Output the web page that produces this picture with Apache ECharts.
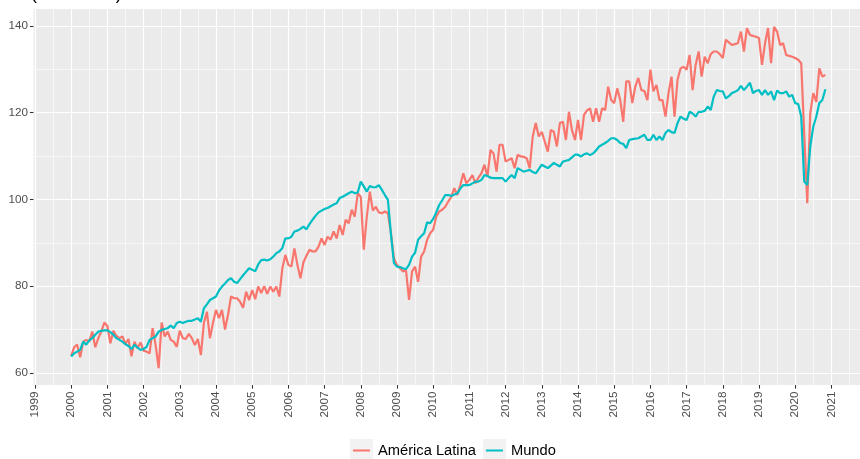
<!DOCTYPE html>
<html lang="es">
  <head>
    <meta charset="UTF-8" />
    <title>América Latina y Mundo</title>
    <script src="https://cdn.jsdelivr.net/npm/echarts@6/dist/echarts.min.js"></script>
  </head>
  <style>
    html,
    body {
      margin: 0;
      padding: 0;
      background: #fff;
    }
    #chart {
      width: 860px;
      height: 459px;
    }
  </style>
  <body>
    <div id="chart"></div>
  </body>
  <script>
    // serie mensual, enero 2000 - noviembre 2020
    const inicio = 2000;

    const americaLatina = [
      63.9, 65.9, 66.5, 63.6, 67.2, 67.6, 67.2, 69.5, 65.9, 68.0, 69.5, 71.6, // 2000
      70.8, 66.8, 69.7, 68.5, 68.0, 68.4, 66.7, 67.8, 63.8, 67.2, 65.7, 67.0, // 2001
      65.1, 64.9, 64.5, 70.3, 66.4, 61.1, 71.6, 68.4, 69.5, 67.6, 67.2, 66.0, // 2002
      69.7, 68.0, 67.8, 69.0, 68.0, 66.4, 67.8, 64.1, 71.5, 74.1, 68.0, 71.5, // 2003
      74.5, 72.6, 74.5, 70.0, 73.4, 77.6, 77.2, 77.2, 76.4, 75.0, 78.7, 76.8, // 2004
      79.1, 77.0, 79.9, 78.4, 80.0, 78.2, 79.9, 78.7, 79.9, 77.6, 84.1, 87.2, // 2005
      84.9, 84.5, 88.7, 84.9, 81.8, 85.5, 87.0, 88.4, 88.0, 88.0, 89.1, 91.0, // 2006
      89.5, 91.4, 90.7, 92.6, 91.0, 94.1, 91.8, 95.3, 94.5, 97.6, 96.0, 101.4, // 2007
      100.6, 88.4, 96.0, 101.8, 97.4, 98.3, 97.0, 96.8, 97.2, 96.8, 92.2, 86.4, // 2008
      84.9, 84.1, 83.4, 83.6, 76.8, 83.4, 84.5, 81.0, 86.8, 88.0, 90.7, 92.2, // 2009
      93.0, 96.0, 97.2, 97.6, 98.3, 99.5, 100.6, 102.6, 101.0, 103.3, 106.0, 103.7, // 2010
      104.5, 105.6, 103.7, 105.0, 106.0, 108.0, 105.3, 111.4, 110.6, 106.4, 112.6, 112.6, // 2011
      108.7, 109.1, 109.5, 107.2, 110.3, 109.9, 109.8, 109.5, 107.2, 114.5, 117.6, 114.5, // 2012
      115.6, 113.3, 111.0, 116.0, 115.6, 112.2, 117.6, 117.9, 113.7, 120.2, 116.0, 113.7, // 2013
      118.3, 113.7, 119.5, 120.5, 121.0, 117.9, 121.0, 117.9, 121.0, 120.6, 126.0, 122.9, // 2014
      122.2, 125.6, 122.9, 117.9, 127.2, 127.2, 122.2, 126.0, 128.0, 125.2, 125.0, 122.9, // 2015
      129.9, 124.9, 126.4, 122.9, 122.9, 119.1, 124.5, 128.3, 119.1, 127.6, 130.2, 130.6, // 2016
      129.9, 133.3, 125.2, 131.0, 134.1, 128.3, 132.9, 131.4, 133.5, 134.1, 134.1, 133.5, // 2017
      132.6, 136.8, 136.2, 135.6, 135.8, 136.0, 138.7, 134.1, 139.5, 137.9, 137.7, 137.5, // 2018
      137.2, 131.0, 136.0, 139.5, 131.4, 139.8, 138.7, 135.6, 136.0, 133.3, 133.1, 132.9, // 2019
      132.6, 132.2, 131.4, 115.0, 99.1, 119.9, 124.5, 122.5, 130.2, 128.3, 128.7 // 2020
    ];

    const mundo = [
      63.8, 64.5, 64.9, 65.3, 67.2, 66.5, 67.5, 68.0, 68.8, 69.5, 69.7, 69.8, // 2000
      69.8, 69.4, 68.8, 68.0, 67.6, 67.2, 66.6, 66.2, 65.5, 66.5, 65.8, 65.3, // 2001
      65.5, 66.0, 67.6, 68.0, 68.4, 69.5, 69.9, 70.1, 70.3, 70.9, 70.3, 71.5, // 2002
      71.8, 71.5, 71.8, 72.0, 72.0, 72.3, 72.6, 71.8, 74.9, 75.8, 76.8, 77.2, // 2003
      77.6, 79.0, 79.9, 80.6, 81.4, 81.8, 81.0, 80.7, 81.6, 82.5, 83.3, 84.1, // 2004
      83.8, 83.4, 85.0, 86.0, 86.1, 85.9, 86.2, 86.8, 87.6, 88.0, 88.8, 91.0, // 2005
      91.0, 91.4, 92.6, 92.8, 93.2, 93.7, 93.1, 94.3, 95.3, 96.2, 97.0, 97.4, // 2006
      97.8, 98.0, 98.4, 98.8, 99.1, 100.3, 100.6, 101.0, 101.4, 101.8, 101.4, 101.6, // 2007
      104.1, 103.0, 101.8, 103.1, 102.8, 102.8, 103.3, 102.2, 101.0, 99.9, 92.0, 85.3, // 2008
      84.5, 84.4, 84.1, 83.9, 84.9, 86.8, 87.7, 90.7, 91.5, 92.2, 94.7, 94.5, // 2009
      95.5, 97.0, 98.7, 99.8, 101.0, 101.0, 100.8, 101.1, 101.4, 102.5, 103.3, 103.3, // 2010
      103.3, 103.7, 104.1, 104.1, 104.5, 105.6, 105.4, 105.0, 104.9, 104.9, 104.9, 104.9, // 2011
      104.1, 104.9, 105.6, 104.9, 107.2, 106.8, 106.4, 106.6, 106.8, 106.3, 106.0, 107.0, // 2012
      108.0, 107.6, 107.2, 107.8, 108.4, 108.0, 107.6, 108.7, 108.9, 109.1, 109.7, 110.3, // 2013
      110.3, 109.9, 110.4, 110.6, 110.2, 110.6, 111.3, 112.2, 112.6, 113.0, 113.5, 114.1, // 2014
      114.1, 113.7, 113.0, 112.8, 111.8, 113.7, 113.9, 114.0, 114.1, 114.5, 114.9, 113.7, // 2015
      113.7, 114.9, 113.7, 114.5, 113.7, 115.3, 116.0, 115.5, 115.3, 117.6, 119.1, 118.6, // 2016
      118.3, 120.2, 119.8, 119.1, 120.2, 120.2, 120.4, 121.4, 120.6, 123.7, 125.2, 125.0, // 2017
      124.9, 123.3, 123.8, 124.5, 124.8, 125.2, 126.2, 125.2, 126.0, 126.9, 124.5, 125.0, // 2018
      125.2, 124.1, 125.2, 124.1, 124.9, 122.9, 125.1, 124.5, 124.5, 124.9, 123.7, 124.1, // 2019
      122.2, 122.0, 119.1, 104.1, 103.3, 112.2, 116.8, 119.1, 122.2, 122.9, 125.4 // 2020
    ];

    const anios = [1999, 2000, 2001, 2002, 2003, 2004, 2005, 2006, 2007, 2008, 2009, 2010,
      2011, 2012, 2013, 2014, 2015, 2016, 2017, 2018, 2019, 2020, 2021];
    const mediosAnios = [1999.5, 2000.5, 2001.5, 2002.5, 2003.5, 2004.5, 2005.5, 2006.5,
      2007.5, 2008.5, 2009.5, 2010.5, 2011.5, 2012.5, 2013.5, 2014.5, 2015.5, 2016.5,
      2017.5, 2018.5, 2019.5, 2020.5, 2021.5];
    const ticksY = [60, 80, 100, 120, 140];
    const menoresY = [70, 90, 110, 130];

    const fechas = americaLatina.map((_, i) => inicio + i / 12);
    const fuente = "Liberation Sans, Arial, sans-serif";
    const rojo = "#F8766D";
    const turquesa = "#00BFC4";

    const chart = echarts.init(document.getElementById("chart"), null, { renderer: "canvas" });

    const ejeX = {
      type: "value",
      min: 1998.96,
      max: 2021.79,
      axisLine: { show: false },
    };
    const ejeY = {
      type: "value",
      min: 57.2,
      max: 143.9,
      axisLine: { show: false },
    };

    var option = {
      animation: false,
      title: {
        text: "(2010=100)",
        left: 31,
        top: -15,
        padding: 0,
        textStyle: { fontSize: 17.6, fontWeight: "normal", color: "#000", fontFamily: fuente },
      },
      grid: {
        left: 33.5,
        top: 9,
        width: 832,
        height: 376,
        show: true,
        backgroundColor: "#EBEBEB",
        borderWidth: 0,
      },
      legend: [
        {
          // cajas grises de la leyenda
          data: ["América Latina", "Mundo"],
          left: 350,
          top: 439,
          padding: 0,
          icon: "rect",
          itemWidth: 23,
          itemHeight: 23,
          itemGap: 7,
          selectedMode: false,
          itemStyle: { color: "#F2F2F2", borderWidth: 0 },
          textStyle: { fontSize: 14.7, color: "#000", fontFamily: fuente },
        },
        {
          // trazos de color dentro de las cajas
          data: ["América Latina", "Mundo"],
          left: 353,
          top: 439,
          padding: 0,
          z: 5,
          icon: "path://M0,10.4h17v2.2h-17z M0,0h0.01v0.01h-0.01z M16.99,22.99h0.01v0.01h-0.01z",
          itemWidth: 17,
          itemHeight: 23,
          itemGap: 13,
          selectedMode: false,
          textStyle: { fontSize: 14.7, color: "rgba(0,0,0,0)", fontFamily: fuente },
        },
      ],
      xAxis: [
        {
          ...ejeX,
          axisTick: { show: true, length: 3.6, customValues: anios, lineStyle: { color: "#333333", width: 1.07 } },
          axisLabel: {
            customValues: anios,
            rotate: 90,
            margin: 6.5,
            color: "#4D4D4D",
            fontSize: 11.7,
            fontFamily: fuente,
            formatter: (v) => String(v),
          },
          splitLine: { show: true, lineStyle: { color: "#FFFFFF", width: 1.2 } },
        },
        {
          ...ejeX,
          position: "bottom",
          axisTick: { show: false, customValues: mediosAnios },
          axisLabel: { show: false },
          splitLine: { show: true, lineStyle: { color: "#FFFFFF", width: 0.6 } },
        },
      ],
      yAxis: [
        {
          ...ejeY,
          axisTick: { show: true, length: 3.6, customValues: ticksY, lineStyle: { color: "#333333", width: 1.07 } },
          axisLabel: { customValues: ticksY, margin: 5.5, color: "#4D4D4D", fontSize: 11.7, fontFamily: fuente },
          splitLine: { show: true, lineStyle: { color: "#FFFFFF", width: 1.2 } },
        },
        {
          ...ejeY,
          position: "left",
          axisTick: { show: false, customValues: menoresY },
          axisLabel: { show: false },
          splitLine: { show: true, lineStyle: { color: "#FFFFFF", width: 0.6 } },
        },
      ],
      series: [
        {
          name: "América Latina",
          type: "line",
          data: fechas.map((f, i) => [f, americaLatina[i]]),
          showSymbol: false,
          itemStyle: { color: rojo },
          lineStyle: { color: rojo, width: 2.2 },
        },
        {
          name: "Mundo",
          type: "line",
          data: fechas.map((f, i) => [f, mundo[i]]),
          showSymbol: false,
          itemStyle: { color: turquesa },
          lineStyle: { color: turquesa, width: 2.2 },
        },
      ],
    };
    chart.setOption(option);
  </script>
</html>
